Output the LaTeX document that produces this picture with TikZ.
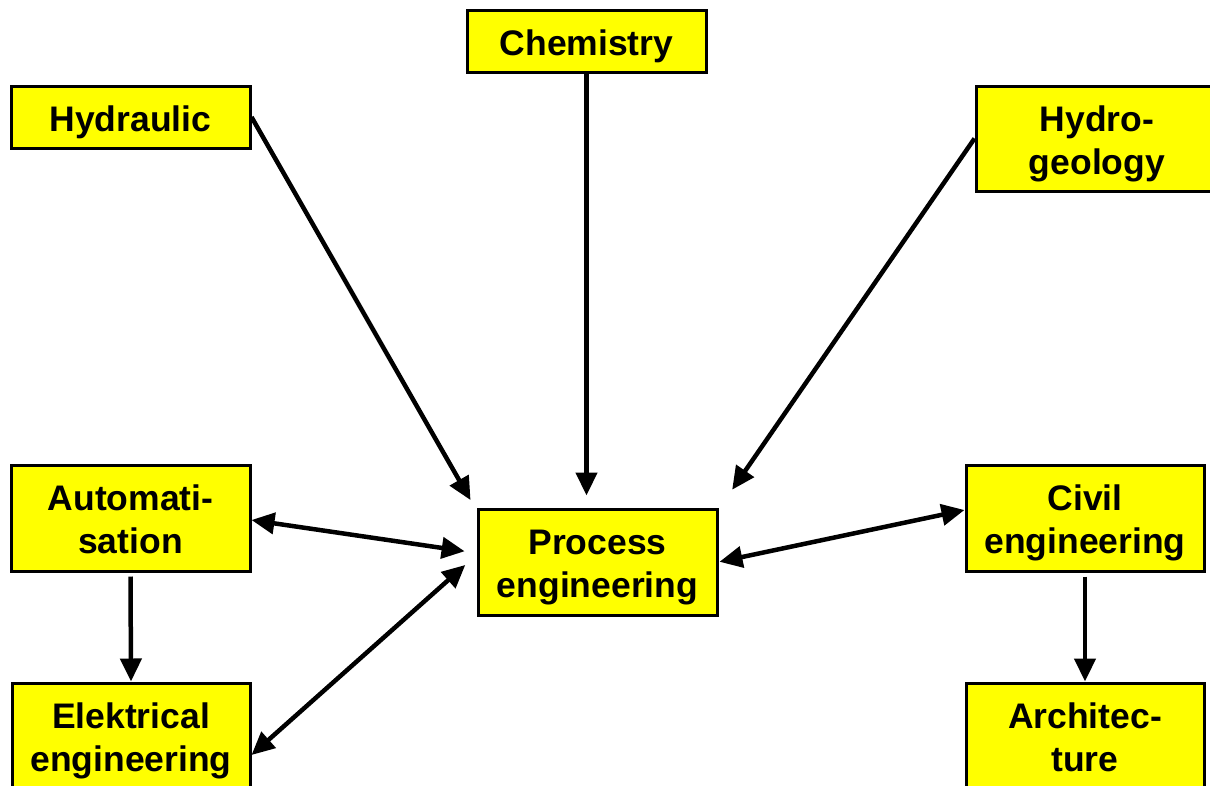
\documentclass[tikz,border=0pt]{standalone}
\usepackage{fontspec}
\setmainfont{Liberation Sans}
\usetikzlibrary{arrows.meta}
\definecolor{fieldyellow}{RGB}{255,255,0}

\begin{document}
\begin{tikzpicture}[x=1pt,y=-1pt,
        field/.style={draw, fill=fieldyellow, line width=3pt, align=center, inner sep=0pt,
            minimum width=239pt, minimum height=106pt, text height=79pt, text depth=7.5pt,
            font=\fontsize{35.5}{43}\selectfont\bfseries},
        flat/.style={minimum height=62pt, text height=36pt},
        link/.style={line width=4.5pt, -{Triangle[length=23pt,width=21pt]}},
        both/.style={line width=4.5pt, {Triangle[length=23pt,width=21pt]}-{Triangle[length=23pt,width=21pt]}}]
        \useasboundingbox (0,0) rectangle (1210,785);

        % Fields
        \node[field, flat] (chem) at (586.5,41) {Chemistry};
        \node[field, flat] (hydr) at (130.5,117) {Hydraulic};
        \node[field, minimum width=242pt, minimum height=105pt] (hgeo) at (1097,138.5) {Hydro-\\geology};
        \node[field] (auto) at (130.5,518) {Automati-\\sation};
        \node[field] (proc) at (597.5,562) {Process\\engineering};
        \node[field, minimum width=238pt] (civil) at (1085,518) {Civil\\engineering};
        \node[field, minimum width=238pt] (elek) at (131,736) {Elektrical\\engineering};
        \node[field, minimum width=238pt] (arch) at (1085,736) {Architec-\\ture};

        % Inputs to process engineering
        \draw[link, shorten >=12pt] (chem.south) -- (chem.south |- proc.north);
        \draw[link, shorten >=12pt] (hydr.east) -- ([yshift=-3pt]proc.north west);
        \draw[link, shorten >=24pt] (hgeo.west) -- ([yshift=-2pt]proc.north east);

        % Exchanges
        \draw[both, shorten >=12pt] ([yshift=-2pt]auto.east) -- ([yshift=9pt]proc.west);
        \draw[both, shorten >=15pt] ([yshift=-19pt]elek.east) -- ([yshift=7pt]proc.west);
        \draw[both, shorten <=1pt] (proc.east) -- ([yshift=8pt]civil.west);

        % Downstream
        \draw[link, shorten <=4pt] (auto.south) -- (elek.north);
        \draw[link, shorten <=4pt] (civil.south) -- (arch.north);
    \end{tikzpicture}
\end{document}
